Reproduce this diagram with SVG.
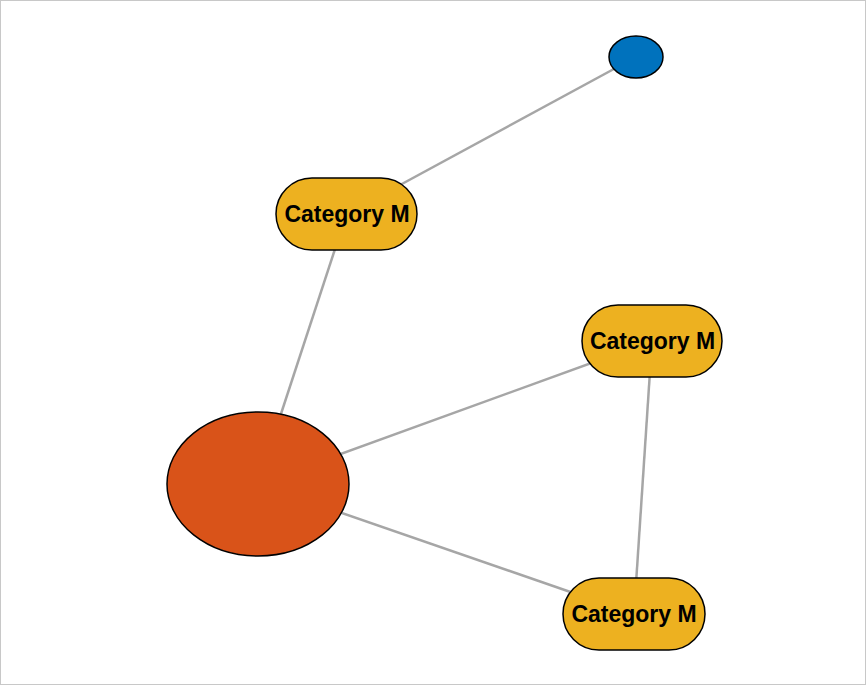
<svg xmlns="http://www.w3.org/2000/svg" width="866" height="685" viewBox="0 0 866 685">
<style>
.edge{stroke:#A6A6A6;stroke-width:2.5;fill:none}
.cat{fill:#EDB120;stroke:#000;stroke-width:1.5}
.lbl{font-family:"Liberation Sans",Arial,sans-serif;font-weight:bold;font-size:23px;fill:#000;text-anchor:middle}
</style>
<rect x="0.5" y="0.5" width="865" height="684" fill="#fff" stroke="#C8C8C8" stroke-width="1"/>
<g id="connectors">
<line class="edge" x1="636" y1="57" x2="346.5" y2="214"/>
<line class="edge" x1="346.5" y1="214" x2="258" y2="484"/>
<line class="edge" x1="258" y1="484" x2="652" y2="341"/>
<line class="edge" x1="652" y1="341" x2="634" y2="614"/>
<line class="edge" x1="258" y1="484" x2="634" y2="614"/>
</g>
<g id="nodeBlue"><ellipse cx="636" cy="57" rx="27" ry="21" fill="#0072BD" stroke="#000" stroke-width="1.5"/></g>
<g id="nodeOrange"><ellipse cx="258" cy="484" rx="91" ry="72" fill="#D95319" stroke="#000" stroke-width="1.5"/></g>
<g id="catTop"><rect class="cat" x="276" y="178" width="141" height="72" rx="36" ry="36"/><text class="lbl" x="347" y="222">Category M</text></g>
<g id="catRight"><rect class="cat" x="582" y="305" width="140" height="72" rx="36" ry="36"/><text class="lbl" x="652.5" y="349">Category M</text></g>
<g id="catBottom"><rect class="cat" x="563" y="578" width="142" height="72" rx="36" ry="36"/><text class="lbl" x="634" y="622">Category M</text></g>
</svg>
